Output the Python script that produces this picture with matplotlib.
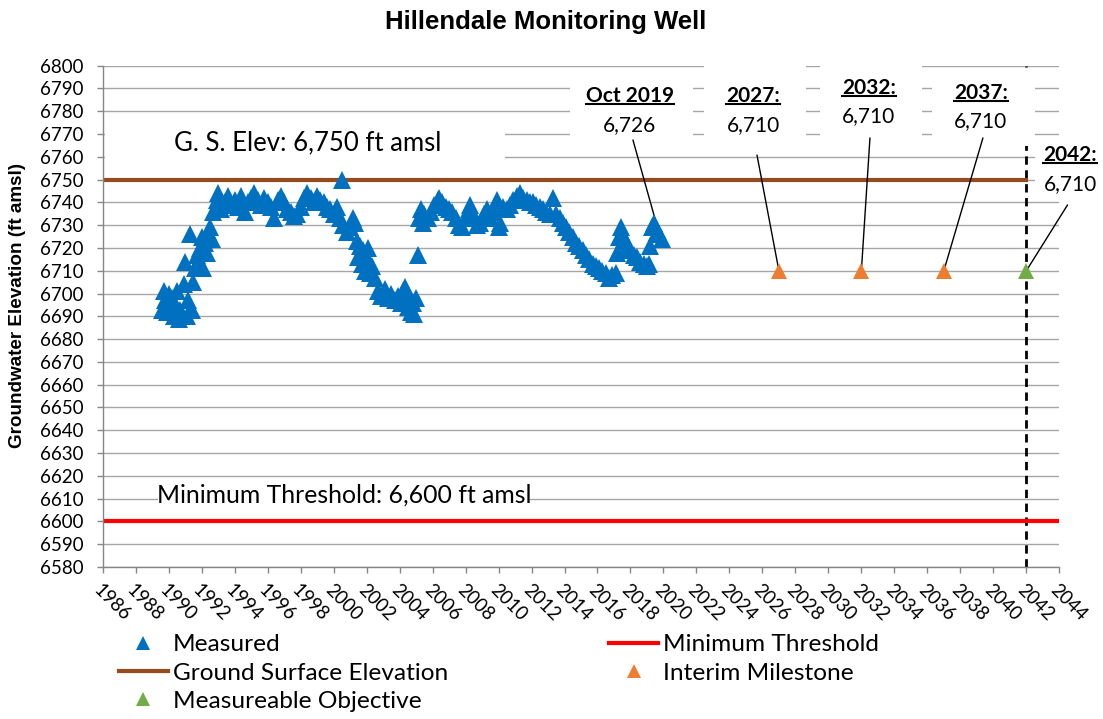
import matplotlib.pyplot as plt
from matplotlib.patches import Rectangle
from matplotlib.lines import Line2D

plt.rcParams['font.family'] = ['Lato', 'DejaVu Sans']

# measured groundwater elevation, decimal year / ft amsl
meas_years = [
    1989.6, 1989.7, 1989.8, 1989.9, 1990.0, 1990.1, 1990.2, 1990.3, 1990.4, 1990.5,
    1990.6, 1990.7, 1990.8, 1990.9, 1991.0, 1991.1, 1991.2, 1991.3, 1991.4, 1991.5,
    1991.6, 1991.7, 1991.8, 1991.9, 1992.0, 1992.1, 1992.2, 1992.3, 1992.4, 1992.5,
    1992.6,
    1992.7, 1992.9, 1993.0, 1993.2, 1993.4, 1993.6, 1993.8, 1994.0, 1994.2, 1994.4,
    1994.6, 1994.8, 1995.0, 1995.2, 1995.4, 1995.6, 1995.8, 1996.0, 1996.2, 1996.4,
    1996.6, 1996.8, 1997.0, 1997.2, 1997.4, 1997.6, 1997.8, 1998.0, 1998.2, 1998.4,
    1998.6, 1998.8, 1999.0, 1999.2, 1999.4, 1999.6, 1999.8, 2000.0, 2000.2, 2000.4,
    2000.5, 2000.6, 2000.8, 2001.0, 2001.2, 2001.3,
    2001.4, 2001.5, 2001.6, 2001.7, 2001.8, 2001.9, 2002.0, 2002.1, 2002.2, 2002.3,
    2002.5, 2002.7, 2002.9, 2003.1, 2003.3, 2003.5, 2003.7, 2003.9, 2004.1, 2004.2,
    2004.3, 2004.4, 2004.5, 2004.6, 2004.7, 2004.8, 2004.9, 2005.0, 2005.1,
    2005.2, 2005.3, 2005.4, 2005.5, 2005.7, 2005.9, 2006.1, 2006.3, 2006.4, 2006.6,
    2006.8, 2007.0, 2007.2, 2007.4, 2007.6, 2007.8, 2008.0, 2008.2, 2008.3, 2008.5,
    2008.7, 2008.9, 2009.1, 2009.3, 2009.5, 2009.7, 2009.9, 2010.0, 2010.1, 2010.3,
    2010.5, 2010.7, 2010.9, 2011.1, 2011.3, 2011.5, 2011.7, 2011.9, 2012.1, 2012.3,
    2012.5, 2012.7, 2012.9, 2013.1, 2013.3,
    2013.5, 2013.7, 2013.9, 2014.1, 2014.3, 2014.5, 2014.7, 2014.9, 2015.1, 2015.3,
    2015.5, 2015.7, 2015.9, 2016.1, 2016.3, 2016.5, 2016.7, 2016.9, 2017.1, 2017.2,
    2017.3, 2017.4, 2017.5, 2017.6, 2017.7, 2017.8, 2017.9, 2018.0, 2018.2, 2018.4,
    2018.6, 2018.8, 2019.0, 2019.1, 2019.2, 2019.3, 2019.4, 2019.5, 2019.6, 2019.75,
    2019.9,
]
meas_elev = [
    6693, 6701, 6697, 6692, 6700, 6694, 6698, 6690, 6695, 6701,
    6689, 6693, 6691, 6704, 6714, 6690, 6697, 6726, 6693, 6705,
    6711, 6717, 6714, 6720, 6725, 6711, 6722, 6718, 6727, 6729,
    6724,
    6736, 6741, 6744, 6737, 6740, 6743, 6739, 6741, 6738, 6743,
    6736, 6740, 6742, 6744, 6741, 6739, 6742, 6740, 6738, 6733,
    6741, 6743, 6740, 6737, 6736, 6734, 6735, 6738, 6742, 6744,
    6742, 6740, 6743, 6741, 6740, 6738, 6737, 6735, 6738, 6733,
    6750, 6730, 6727, 6729, 6733, 6731,
    6723, 6716, 6721, 6713, 6719, 6710, 6715, 6720, 6709, 6712,
    6707, 6701, 6699, 6702, 6698, 6700, 6697, 6699, 6696, 6701,
    6703, 6697, 6694, 6699, 6692, 6696, 6691, 6698, 6717,
    6733, 6737, 6731, 6735, 6733, 6736, 6739, 6741, 6742, 6740,
    6738, 6737, 6736, 6733, 6730, 6729, 6733, 6737, 6739, 6734,
    6730, 6731, 6735, 6737, 6733, 6736, 6741, 6729, 6731, 6738,
    6737, 6739, 6741, 6743, 6744, 6742, 6741, 6740, 6740, 6739,
    6738, 6737, 6736, 6735, 6742,
    6735, 6733, 6731, 6729, 6727, 6725, 6722, 6721, 6719, 6717,
    6715, 6713, 6712, 6711, 6710, 6709, 6707, 6708, 6709, 6718,
    6725, 6729, 6726, 6724, 6723, 6721, 6720, 6719, 6717, 6716,
    6714, 6713, 6712, 6713, 6721, 6729, 6731, 6729, 6727, 6726,
    6724,
]

milestone_years = [2027, 2032, 2037]
milestone_elev = [6710, 6710, 6710]
objective_years = [2042]
objective_elev = [6710]

gse_years = [1986, 2042]
gse_elev = [6750, 6750]
mt_years = [1986, 2044]
mt_elev = [6600, 6600]

callout_heads = ['Oct 2019', '2027:', '2032:', '2037:', '2042:']
callout_years = [2019.75, 2027, 2032, 2037, 2042]
callout_elev = [6726, 6710, 6710, 6710, 6710]
# where each callout's text and leader sit (data coords)
callout_text_xy = [(2017.97, 6786.7), (2025.43, 6786.5), (2032.46, 6790.4),
                   (2039.25, 6788.2), (2044.65, 6760.8)]
callout_leader_xy = [(2018.15, 6767.4), (2025.67, 6760.8), (2032.52, 6768.3),
                     (2039.37, 6768.3), (2044.5, 6738.9)]

x_ticks = list(range(1986, 2045, 2))
y_ticks = list(range(6580, 6801, 10))

blue = '#0070C0'
orange = '#ED7D31'
green = '#70AD47'
brown = '#964B1E'
red = '#FF0000'
axis_gray = '#868686'

W, H = 1103, 719
fig = plt.figure(figsize=(W / 100, H / 100), dpi=100)
ax = fig.add_axes([102.7 / W, 1 - 567 / H, (1059.3 - 102.7) / W, (567 - 65.7) / H])

ax.set_xlim(1986, 2044)
ax.set_ylim(6580, 6800)
ax.set_xticks(x_ticks)
ax.set_yticks(y_ticks)
ax.set_axisbelow(True)
ax.yaxis.grid(True, color='#A6A6A6', lw=1.0)
for side in ['top', 'right']:
    ax.spines[side].set_visible(False)
for side in ['left', 'bottom']:
    ax.spines[side].set_color(axis_gray)
    ax.spines[side].set_linewidth(1.0)
ax.tick_params(axis='both', direction='out', length=4.5, width=1, color=axis_gray,
               labelsize=13.5)
ax.tick_params(axis='y', pad=9)
ax.tick_params(axis='x', pad=6)
plt.setp(ax.get_xticklabels(), rotation=-45, ha='left', va='top', rotation_mode='anchor')

# white panels behind the text labels hide the gridlines there
boxes = [(1986.14, 6755.0, 2010.4, 6774.0), (1989.35, 6606.0, 2011.9, 6614.6),
         (2014.33, 6764.8, 2021.8, 6795.9), (2022.46, 6764.8, 2028.65, 6802.5),
         (2029.5, 6764.8, 2035.7, 6802.5), (2036.3, 6764.8, 2042.5, 6798.5),
         (2042.5, 6741.0, 2046.7, 6767.0)]
for x0, y0, x1, y1 in boxes:
    ax.add_patch(Rectangle((x0, y0), x1 - x0, y1 - y0, facecolor='white',
                           edgecolor='none', zorder=1.2, clip_on=False))

ax.plot(gse_years, gse_elev, color=brown, lw=3, zorder=2)
ax.plot(mt_years, mt_elev, color=red, lw=3, zorder=2)
ax.plot([2042, 2042], [6580, 6800], color='black', lw=2, ls=(0, (3, 2)), zorder=1.1)

ax.plot(meas_years, meas_elev, ls='none', marker='^', ms=12.5, mew=0, color=blue, zorder=4)
ax.plot(milestone_years, milestone_elev, ls='none', marker='^', ms=12, mew=0, color=orange, zorder=4)
ax.plot(objective_years, objective_elev, ls='none', marker='^', ms=12, mew=0, color=green, zorder=4)

ax.text(1998.4, 6766, 'G. S. Elev: 6,750 ft amsl', fontsize=18.5, ha='center', va='center', zorder=5)
ax.text(2000.65, 6611.5, 'Minimum Threshold: 6,600 ft amsl', fontsize=17.8, ha='center', va='center', zorder=5)

head_texts = []
for head, yr, el, (tx, ty), (lx, ly) in zip(callout_heads, callout_years, callout_elev,
                                            callout_text_xy, callout_leader_xy):
    t = ax.text(tx, ty, head, fontsize=15, fontweight='bold', ha='center', va='center', zorder=5)
    head_texts.append(t)
    ax.text(tx, ty - 12.7, f'{el:,}', fontsize=15, ha='center', va='center', zorder=5)
    ax.annotate('', xy=(yr, el), xytext=(lx, ly),
                arrowprops=dict(arrowstyle='-', color='black', lw=1, shrinkA=0, shrinkB=0),
                zorder=3, annotation_clip=False)

fig.text(0.495, 1 - 22 / H, 'Hillendale Monitoring Well', fontsize=18.5, fontweight='bold',
         family='Liberation Sans', ha='center', va='center')
fig.text(18 / W, 1 - 305 / H, 'Groundwater Elevation (ft amsl)', fontsize=13.6, fontweight='bold',
         family='Liberation Sans', rotation=90, ha='center', va='center')

handles = [
    Line2D([], [], ls='none', marker='^', ms=9.5, mew=0, color=blue),
    Line2D([], [], color=brown, lw=3),
    Line2D([], [], ls='none', marker='^', ms=9.5, mew=0, color=green),
    Line2D([], [], color=red, lw=3),
    Line2D([], [], ls='none', marker='^', ms=9.5, mew=0, color=orange),
]
labels = ['Measured', 'Ground Surface Elevation', 'Measureable Objective',
          'Minimum Threshold', 'Interim Milestone']
fig.legend(handles, labels, loc='upper left', bbox_to_anchor=(119 / W, 1 - 634 / H), ncol=2,
           frameon=False, fontsize=17.6, handlelength=2.0, handletextpad=0.2,
           columnspacing=6.6, labelspacing=0.3, borderpad=0, borderaxespad=0)

# underline the callout headings
fig.canvas.draw()
renderer = fig.canvas.get_renderer()
inv = fig.transFigure.inverted()
for t in head_texts:
    bb = t.get_window_extent(renderer)
    (x0, y0), (x1, _) = inv.transform([[bb.x0, bb.y0 + 2], [bb.x1, bb.y0 + 2]])
    fig.add_artist(Line2D([x0, x1], [y0, y0], transform=fig.transFigure, color='black', lw=1.5))

fig.savefig('out.png', dpi=100)
